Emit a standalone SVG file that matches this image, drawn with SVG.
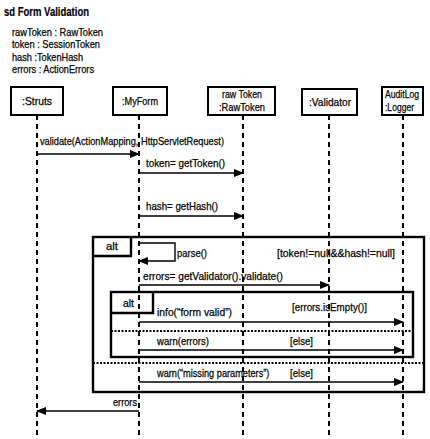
<svg xmlns="http://www.w3.org/2000/svg" width="430" height="439" viewBox="0 0 430 439">
<style>
text{font-family:"Liberation Sans",Arial,sans-serif;font-size:11.5px;fill:#000;stroke:#000;stroke-width:0.25}
.title{font-weight:bold;font-size:13px;stroke-width:0.2}
.box{fill:#fff;stroke:#000;stroke-width:2}
.life{stroke:#000;stroke-width:2;stroke-dasharray:5,4;fill:none}
.msg{stroke:#000;stroke-width:1.4;fill:none}
.frame{fill:none;stroke:#000;stroke-width:2.4}
.sep{stroke:#000;stroke-width:2;stroke-dasharray:2,1.5}
.mid{text-anchor:middle}
</style>
<defs>
<marker id="ah" markerUnits="userSpaceOnUse" markerWidth="10" markerHeight="8" refX="9" refY="4" orient="auto">
<path d="M0,0 L10,4 L0,8 z" fill="#000"/>
</marker>
</defs>
<rect width="430" height="439" fill="#fff"/>
<text class="title" x="4" y="16" textLength="85" lengthAdjust="spacingAndGlyphs">sd Form Validation</text>
<g id="attributes">
<text x="12" y="36" textLength="91" lengthAdjust="spacingAndGlyphs">rawToken : RawToken</text>
<text x="12" y="48" textLength="88" lengthAdjust="spacingAndGlyphs">token : SessionToken</text>
<text x="12" y="61" textLength="71" lengthAdjust="spacingAndGlyphs">hash :TokenHash</text>
<text x="12" y="73" textLength="82" lengthAdjust="spacingAndGlyphs">errors : ActionErrors</text>
</g>
<g id="lifelines">
<line class="life" x1="37" y1="115" x2="37" y2="439"/>
<line class="life" x1="139" y1="115" x2="139" y2="439"/>
<line class="life" x1="243" y1="115" x2="243" y2="439"/>
<line class="life" x1="329" y1="115" x2="329" y2="439"/>
<line class="life" x1="403" y1="115" x2="403" y2="439"/>
</g>
<g id="struts">
<rect class="box" x="11" y="87" width="52" height="28"/>
<text class="mid" x="37" y="105" textLength="30" lengthAdjust="spacingAndGlyphs">:Struts</text>
</g>
<g id="myform">
<rect class="box" x="113" y="87" width="54" height="28"/>
<text class="mid" x="140" y="105" textLength="36" lengthAdjust="spacingAndGlyphs">:MyForm</text>
</g>
<g id="rawtoken">
<rect class="box" x="208" y="87" width="67" height="28"/>
<text class="mid" x="242" y="98" textLength="40" lengthAdjust="spacingAndGlyphs">raw Token</text>
<text class="mid" x="242" y="111" textLength="46" lengthAdjust="spacingAndGlyphs">:RawToken</text>
</g>
<g id="validator">
<rect class="box" x="302" y="89" width="55" height="26"/>
<text class="mid" x="330" y="106" textLength="42" lengthAdjust="spacingAndGlyphs">:Validator</text>
</g>
<g id="logger">
<rect class="box" x="382" y="87" width="41" height="28"/>
<text class="mid" x="402" y="98" textLength="34" lengthAdjust="spacingAndGlyphs">AuditLog</text>
<text x="385" y="111" textLength="29" lengthAdjust="spacingAndGlyphs">:Logger</text>
</g>
<g id="frames">
<rect class="frame" x="93" y="237" width="331" height="155"/>
<path class="frame" d="M93,256 H131 V237" stroke-width="1.6"/>
<text x="106" y="250" textLength="12" lengthAdjust="spacingAndGlyphs">alt</text>
<text x="277" y="257" textLength="118" lengthAdjust="spacingAndGlyphs">[token!=null&amp;&amp;hash!=null]</text>
<rect class="frame" x="111" y="292" width="302" height="65"/>
<path class="frame" d="M111,313 H153 V292" stroke-width="1.6"/>
<text x="123" y="307" textLength="11" lengthAdjust="spacingAndGlyphs">alt</text>
<text x="292" y="311" textLength="75" lengthAdjust="spacingAndGlyphs">[errors.isEmpty()]</text>
<line class="sep" x1="111" y1="331" x2="413" y2="331"/>
<text x="290" y="345" textLength="23" lengthAdjust="spacingAndGlyphs">[else]</text>
<line class="sep" x1="93" y1="363" x2="424" y2="363"/>
<text x="290" y="377" textLength="23" lengthAdjust="spacingAndGlyphs">[else]</text>
</g>
<g id="connectors">
<line class="msg" x1="37" y1="154" x2="139" y2="154" marker-end="url(#ah)"/>
<text x="40" y="145" textLength="184" lengthAdjust="spacingAndGlyphs">validate(ActionMapping, HttpServletRequest)</text>
<line class="msg" x1="139" y1="173" x2="243" y2="173" marker-end="url(#ah)"/>
<text x="146" y="167" textLength="79" lengthAdjust="spacingAndGlyphs">token= getToken()</text>
<line class="msg" x1="139" y1="216" x2="243" y2="216" marker-end="url(#ah)"/>
<text x="146" y="210" textLength="72" lengthAdjust="spacingAndGlyphs">hash= getHash()</text>
<path class="msg" d="M139,243 H175 V261 H139" marker-end="url(#ah)"/>
<text x="177" y="257" textLength="30" lengthAdjust="spacingAndGlyphs">parse()</text>
<line class="msg" x1="139" y1="285" x2="329" y2="285" marker-end="url(#ah)"/>
<text x="143" y="280" textLength="140" lengthAdjust="spacingAndGlyphs">errors= getValidator().validate()</text>
<line class="msg" x1="139" y1="322" x2="403" y2="322" marker-end="url(#ah)"/>
<text x="157" y="316" textLength="75" lengthAdjust="spacingAndGlyphs">info(“form valid”)</text>
<line class="msg" x1="139" y1="350" x2="403" y2="350" marker-end="url(#ah)"/>
<text x="157" y="345" textLength="52" lengthAdjust="spacingAndGlyphs">warn(errors)</text>
<line class="msg" x1="139" y1="382" x2="403" y2="382" marker-end="url(#ah)"/>
<text transform="translate(157,377) scale(0.8,1)" x="0" y="0">warn(“missing parameters”)</text>
<line class="msg" x1="139" y1="411" x2="37" y2="411" marker-end="url(#ah)"/>
<text x="113" y="406" textLength="24" lengthAdjust="spacingAndGlyphs">errors</text>
</g>
</svg>
